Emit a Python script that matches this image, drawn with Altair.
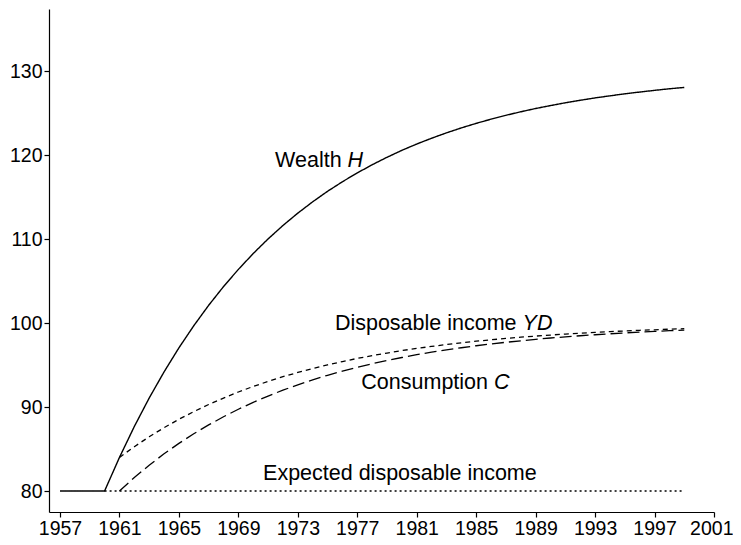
import altair as alt
import pandas as pd

# ---- data ----
wealth_years = list(range(1957, 2000))
wealth = [80.00, 80.00, 80.00, 80.00, 84.00, 87.68, 91.07, 94.18, 97.05, 99.68,
          102.11, 104.34, 106.39, 108.28, 110.02, 111.62, 113.09, 114.44, 115.69, 116.83,
          117.88, 118.85, 119.74, 120.57, 121.32, 122.01, 122.65, 123.24, 123.78, 124.28,
          124.74, 125.16, 125.55, 125.90, 126.23, 126.53, 126.81, 127.06, 127.30, 127.51,
          127.71, 127.90, 128.06]

flow_years = list(range(1961, 2000))
disposable_income = [84.00, 85.28, 86.46, 87.54, 88.54, 89.45, 90.30, 91.07, 91.79, 92.45,
                     93.05, 93.61, 94.12, 94.59, 95.02, 95.42, 95.79, 96.12, 96.43, 96.72,
                     96.98, 97.22, 97.44, 97.65, 97.84, 98.01, 98.17, 98.32, 98.45, 98.57,
                     98.69, 98.79, 98.89, 98.98, 99.06, 99.14, 99.20, 99.27, 99.33]
consumption = [80.00, 81.60, 83.07, 84.43, 85.67, 86.82, 87.87, 88.84, 89.74, 90.56,
               91.31, 92.01, 92.65, 93.24, 93.78, 94.27, 94.73, 95.15, 95.54, 95.90,
               96.23, 96.53, 96.81, 97.06, 97.30, 97.51, 97.71, 97.89, 98.06, 98.22,
               98.36, 98.49, 98.61, 98.72, 98.83, 98.92, 99.01, 99.09, 99.16]

expected_years = list(range(1960, 2000))
expected_yd = [80.0] * len(expected_years)

x_ticks = [1957, 1961, 1965, 1969, 1973, 1977, 1981, 1985, 1989, 1993, 1997, 2001]
y_ticks = [80, 90, 100, 110, 120, 130]

# annotations (anchored in data units): plain part ends where italic part starts
pair_plain = ["Wealth", "Disposable income", "Consumption"]
pair_italic = ["H", "YD", "C"]
pair_x = [1976.35, 1988.12, 1986.20]
pair_y = [118.57, 99.17, 92.14]
single_text = ["Expected disposable income"]
single_x = [1970.66]
single_y = [81.31]

FONT = "Liberation Sans"
FS = 21.5

xs = alt.Scale(domain=[1956.26, 2001], nice=False, zero=False)
ys = alt.Scale(domain=[77.5, 137.4], nice=False, zero=False)

x_axis = alt.Axis(values=x_ticks, format="d", title=None, grid=False,
                  labelOverlap=False, labelFlush=1, labelFlushOffset=19)
y_axis = alt.Axis(values=y_ticks, format="d", title=None, grid=False,
                  labelOverlap=False, labelFlush=False)


def line_layer(xv, yv, dash, width=1.3):
    df = pd.DataFrame({"year": xv, "value": yv})
    mark = alt.Chart(df).mark_line(color="black", strokeWidth=width,
                                   strokeDash=dash, clip=False)
    return mark.encode(
        x=alt.X("year:Q", scale=xs, axis=x_axis),
        y=alt.Y("value:Q", scale=ys, axis=y_axis),
    )


wealth_line = line_layer(wealth_years, wealth, [1, 0], 1.4)
yd_line = line_layer(flow_years, disposable_income, [5, 4], 1.3)
c_line = line_layer(flow_years, consumption, [12, 5], 1.3)
exp_line = line_layer(expected_years, expected_yd, [2, 3], 1.5)

pair_df = pd.DataFrame({"x": pair_x, "y": pair_y, "p": pair_plain, "i": pair_italic})
single_df = pd.DataFrame({"x": single_x, "y": single_y, "t": single_text})

enc = dict(x=alt.X("x:Q", scale=xs), y=alt.Y("y:Q", scale=ys))

plain_part = alt.Chart(pair_df).mark_text(
    font=FONT, fontSize=FS, color="black", align="right", baseline="alphabetic", dx=-6
).encode(text="p:N", **enc)

italic_part = alt.Chart(pair_df).mark_text(
    font=FONT, fontSize=FS, color="black", align="left", baseline="alphabetic",
    fontStyle="italic"
).encode(text="i:N", **enc)

single = alt.Chart(single_df).mark_text(
    font=FONT, fontSize=FS, color="black", align="left", baseline="alphabetic"
).encode(text="t:N", **enc)

chart = (
    alt.layer(exp_line, c_line, yd_line, wealth_line, plain_part, italic_part, single)
    .properties(
        width=665,
        height=503,
        autosize=alt.AutoSizeParams(type="none"),
        padding={"left": 41, "top": 1, "right": 19, "bottom": 28},
        background="white",
    )
    .configure_view(stroke=None)
    .configure_axis(
        labelFont=FONT,
        labelFontSize=19.5,
        labelColor="black",
        domainColor="black",
        domainWidth=1.2,
        tickColor="black",
        tickWidth=1.2,
        tickSize=5,
        labelPadding=2,
    )
)

chart.save("out.html", embed_options={"renderer": "svg", "actions": False})
